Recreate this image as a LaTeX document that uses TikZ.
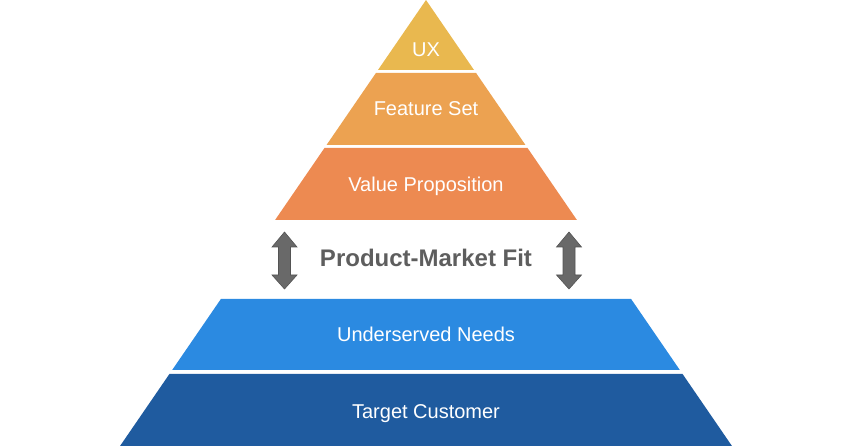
\documentclass[tikz,border=0pt]{standalone}
\usepackage{fontspec}
\setmainfont{Liberation Sans}
\usetikzlibrary{positioning,calc}

\definecolor{uxcol}{HTML}{E9B84F}
\definecolor{featcol}{HTML}{ECA251}
\definecolor{valcol}{HTML}{ED8A51}
\definecolor{needcol}{HTML}{2B8AE1}
\definecolor{custcol}{HTML}{1F5B9F}
\definecolor{arrowgray}{HTML}{696969}
\definecolor{fitgray}{HTML}{5E5E5E}

\tikzset{
  band label/.style={text=white, font=\fontsize{20}{24}\selectfont, inner sep=0pt, anchor=base},
  fit label/.style={text=fitgray, font=\fontsize{24}{28}\selectfont\bfseries, inner sep=0pt, anchor=base},
  updown/.style={fill=arrowgray, draw=arrowgray!80!black, line width=0.6pt, line join=miter}
}

\begin{document}
\begin{tikzpicture}[x=1pt,y=-1pt]
  \def\ax{426} % apex of the pyramid
  \def\k{0.686} % half width per unit of depth
  \def\hw{12.5} % half width of arrow head
  \def\sw{6} % half width of arrow shaft
  \useasboundingbox (0,0) rectangle (852,446);
  % the five bands (top, bottom, text baseline)
  \foreach \t/\b/\ly/\c/\nm/\lbl in {0/70/57/uxcol/ux/UX,
      73/145/116/featcol/feat/Feature Set,
      148/220/192/valcol/val/Value Proposition,
      299/370/342/needcol/need/Underserved Needs,
      374/446/418/custcol/cust/Target Customer} {
    \fill[\c] (\ax-\k*\t,\t) -- (\ax+\k*\t,\t) -- (\ax+\k*\b,\b) -- (\ax-\k*\b,\b) -- cycle;
    \node[band label] (\nm) at (\ax,\ly) {\lbl};
  }
  \node[fit label] (fit) at (\ax,267) {Product-Market Fit};
  % up-down arrows
  \foreach \cx in {284.5,569} {
    \draw[updown] (\cx,232) -- (\cx+\hw,247) -- (\cx+\sw,247) -- (\cx+\sw,275)
      -- (\cx+\hw,275) -- (\cx,289) -- (\cx-\hw,275) -- (\cx-\sw,275)
      -- (\cx-\sw,247) -- (\cx-\hw,247) -- cycle;
  }
\end{tikzpicture}
\end{document}
